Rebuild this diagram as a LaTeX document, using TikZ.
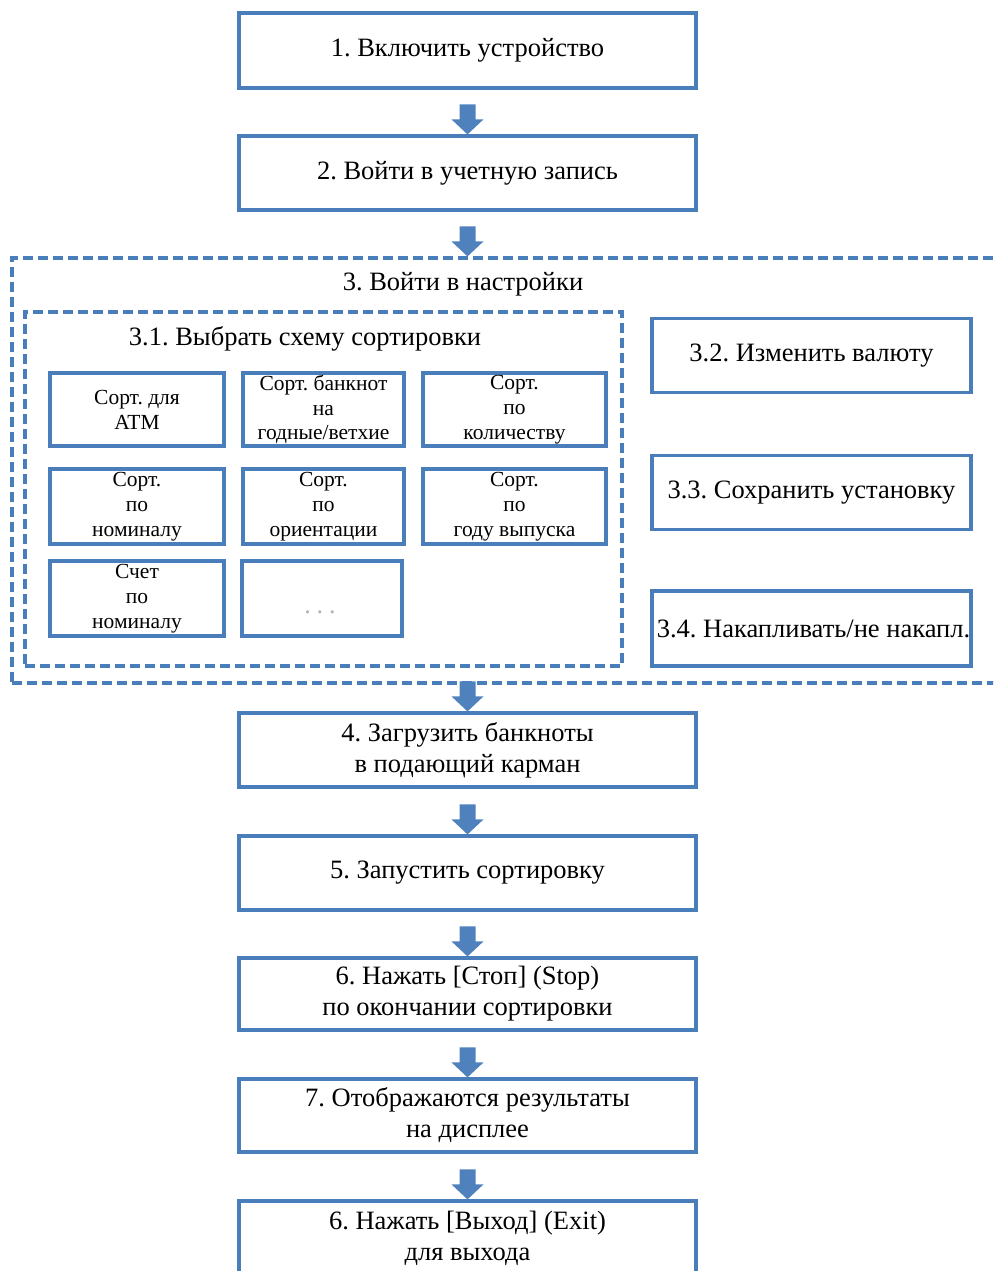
\documentclass[tikz,border=0pt]{standalone}
\usepackage{fontspec}
\setmainfont{Liberation Serif}
\usetikzlibrary{calc}
\definecolor{boxblue}{HTML}{4A7EBB}
\definecolor{arrowblue}{HTML}{4F81BD}
\frenchspacing
\tikzset{
 mainbox/.style={draw=boxblue, line width=3.2pt, fill=white, minimum width=457pt, inner sep=0pt, align=center, font=\fontsize{26.5}{31}\selectfont},
 gridbox/.style={draw=boxblue, line width=3.2pt, fill=white, inner sep=0pt, align=center, font=\fontsize{21.5}{24.8}\selectfont},
 sidebox/.style={draw=boxblue, line width=3.2pt, fill=white, minimum width=319pt, minimum height=74pt, inner sep=0pt, align=center, font=\fontsize{26.5}{31}\selectfont},
 dashbox/.style={draw=boxblue, line width=3.2pt, dash pattern=on 10pt off 5pt, inner sep=0pt},
 title/.style={font=\fontsize{26.5}{31}\selectfont, inner sep=0pt},
}
\newcommand\flowarrow[2]{%
 \fill[arrowblue] let \p1=(axis |- #2.north) in
 (\x1-8pt,\y1+30pt) -- (\x1+8pt,\y1+30pt) -- (\x1+8pt,\y1+15pt) -- (\x1+16pt,\y1+15pt) -- (\x1,\y1) -- (\x1-16pt,\y1+15pt) -- (\x1-8pt,\y1+15pt) -- cycle;}
\begin{document}
\begin{tikzpicture}[x=1pt,y=-1pt]
\useasboundingbox (0,0) rectangle (993,1271);
\clip (0,0) rectangle (993,1271);
\coordinate (axis) at (467.5,0);

% main column
\node[mainbox, minimum height=75pt] (b1) at (467.5,50.5) {1. Включить устройство};
\node[mainbox, minimum height=74pt] (b2) at (467.5,173) {2. Войти в учетную запись};

% settings group
\node[dashbox, minimum width=998pt, minimum height=425pt] (outer) at (511,470.5) {};
\node[title] (t3) at (463,284) {3. Войти в настройки};
\node[dashbox, minimum width=597pt, minimum height=354pt] (inner) at (323.5,489) {};
\node[title] (t31) at (305,339) {3.1. Выбрать схему сортировки};

\node[gridbox, minimum width=174pt, minimum height=73pt] (g11) at (137,409.5) {Сорт. для\\ATM};
\node[gridbox, minimum width=161pt, minimum height=73pt] (g12) at (323.5,409.5) {Сорт. банкнот\\на\\годные/ветхие};
\node[gridbox, minimum width=183pt, minimum height=73pt] (g13) at (514.5,409.5) {Сорт.\\по\\количеству};
\node[gridbox, minimum width=174pt, minimum height=75pt] (g21) at (137,506.5) {Сорт.\\по\\номиналу};
\node[gridbox, minimum width=161pt, minimum height=75pt] (g22) at (323.5,506.5) {Сорт.\\по\\ориентации};
\node[gridbox, minimum width=183pt, minimum height=75pt] (g23) at (514.5,506.5) {Сорт.\\по\\году выпуска};
\node[gridbox, minimum width=174pt, minimum height=75pt] (g31) at (137,598.5) {Счет\\по\\номиналу};
\node[gridbox, minimum width=160pt, minimum height=75pt] (g32) at (322,598.5) {};
\node[font=\fontsize{26}{30}\selectfont, text=gray!60, inner sep=0pt] (dots) at (320,612) {.\hspace{6pt}.\hspace{6pt}.};

\node[sidebox] (s32) at (811.5,355.5) {3.2. Изменить валюту};
\node[sidebox] (s33) at (811.5,492.5) {3.3. Сохранить установку};
\node[sidebox, minimum height=75pt] (s34) at (811.5,628.5) {\hspace*{4pt}3.4. Накапливать/не накапл.};

\node[mainbox, minimum height=74pt] (b4) at (467.5,750) {4. Загрузить банкноты\\в подающий карман};
\node[mainbox, minimum height=74pt] (b5) at (467.5,873) {5. Запустить сортировку};
\node[mainbox, minimum height=72pt] (b6) at (467.5,994) {6. Нажать [Стоп] (Stop)\\по окончании сортировки};
\node[mainbox, minimum height=73pt] (b7) at (467.5,1115.5) {7. Отображаются результаты\\на дисплее};
\node[mainbox, minimum height=75pt] (b8) at (467.5,1238.5) {6. Нажать [Выход] (Exit)\\для выхода};

% arrows
\flowarrow{b1}{b2}
\flowarrow{b2}{outer}
\flowarrow{outer}{b4}
\flowarrow{b4}{b5}
\flowarrow{b5}{b6}
\flowarrow{b6}{b7}
\flowarrow{b7}{b8}
\end{tikzpicture}
\end{document}
